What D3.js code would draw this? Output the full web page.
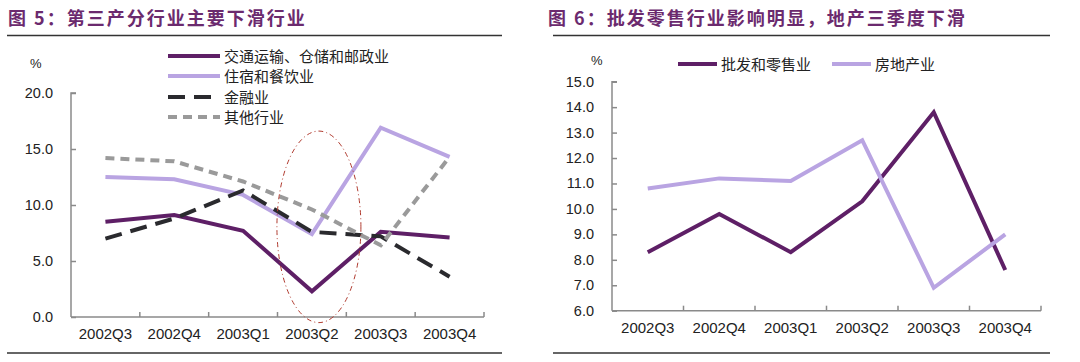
<!DOCTYPE html>
<html>
<head>
<meta charset="utf-8">
<script src="https://cdn.jsdelivr.net/npm/d3@7"></script>
<style>
  body { margin: 0; background: #fff; }
  svg { display: block; font-family: "Liberation Sans", Arial, sans-serif; }
  .title { font-family: "Noto Sans CJK SC", sans-serif; font-weight: bold; font-size: 18px; fill: #6b2a6e; letter-spacing: 2px; }
  .cjk { font-family: "Noto Sans CJK SC", sans-serif; }
</style>
</head>
<body>
<svg id="chart" width="1080" height="362"></svg>
<script>
// quarters shared by both charts
const quarters = ["2002Q3", "2002Q4", "2003Q1", "2003Q2", "2003Q3", "2003Q4"];

// chart 5
const transport = [8.5, 9.1, 7.7, 2.3, 7.6, 7.1];
const hotel = [12.5, 12.3, 10.9, 7.4, 16.9, 14.3];
const finance = [7.0, 8.8, 11.3, 7.6, 7.2, 3.6];
const others = [14.2, 13.9, 12.1, 9.6, 6.4, 14.3];
const ticks5 = [0, 5, 10, 15, 20];

// chart 6
const retail = [8.3, 9.8, 8.3, 10.3, 13.8, 7.6];
const realEstate = [10.8, 11.2, 11.1, 12.7, 6.9, 9.0];
const ticks6 = [6, 7, 8, 9, 10, 11, 12, 13, 14, 15];

const DARK = "#5e1f66", LIGHT = "#b9a4e2", BLACK = "#2a2a2e", GREY = "#9a9a9a";

const svg = d3.select("#chart");

function drawPanel(opt) {
  const g = svg.append("g");

  // title and rules
  g.append("text").attr("class", "title")
    .attr("x", opt.titleX).attr("y", 25).text(opt.title);
  g.append("line").attr("x1", opt.ruleX[0]).attr("x2", opt.ruleX[1])
    .attr("y1", 35.5).attr("y2", 35.5).attr("stroke", "#333").attr("stroke-width", 1.3);
  g.append("line").attr("x1", opt.ruleX[0]).attr("x2", opt.ruleX[1])
    .attr("y1", 353).attr("y2", 353).attr("stroke", "#333").attr("stroke-width", 1.3);

  const xBand = d3.scaleBand().domain(quarters).range(opt.xRange);
  const x = d3.scalePoint().domain(quarters).range(opt.xRange).padding(0.5);
  const y = d3.scaleLinear().domain(opt.yDomain).range(opt.yRange);

  // y axis, inward ticks
  const yAxis = g.append("g")
    .attr("transform", `translate(${opt.xRange[0]},0)`)
    .call(d3.axisRight(y).tickValues(opt.yTicks).tickSize(5).tickFormat(""));
  yAxis.select(".domain").attr("d", `M5,${opt.yRange[1]}H0V${opt.yRange[0]}`);
  yAxis.selectAll("line, path").attr("stroke", "#8a8a8a").attr("stroke-width", 1.5);

  g.selectAll(".ylab").data(opt.yTicks).join("text")
    .attr("x", opt.xRange[0] - 18).attr("y", d => y(d) + 5)
    .attr("text-anchor", "end").attr("font-size", 14.5).attr("fill", "#222")
    .text(d => d3.format(".1f")(d));

  g.append("text").attr("x", opt.pctX).attr("y", opt.pctY)
    .attr("font-size", 13).attr("fill", "#222").text("%");

  // x axis with ticks at band edges
  const edges = quarters.map(q => xBand(q)).concat([opt.xRange[1]]);
  const y0 = opt.yRange[0];
  g.append("line").attr("x1", opt.xRange[0]).attr("x2", opt.xRange[1])
    .attr("y1", y0).attr("y2", y0).attr("stroke", "#8a8a8a").attr("stroke-width", 1.5);
  g.selectAll(".xt").data(edges.slice(1)).join("line")
    .attr("x1", d => d).attr("x2", d => d).attr("y1", y0).attr("y2", y0 - 5)
    .attr("stroke", "#8a8a8a").attr("stroke-width", 1.5);
  g.selectAll(".xlab").data(quarters).join("text")
    .attr("x", d => x(d)).attr("y", y0 + 22)
    .attr("text-anchor", "middle").attr("font-size", 15).attr("fill", "#222")
    .text(d => d);

  const line = d3.line().x((d, i) => x(quarters[i])).y(d => y(d));

  opt.series.forEach(s => {
    g.append("path").datum(s.values)
      .attr("d", line).attr("fill", "none")
      .attr("stroke", s.color).attr("stroke-width", 4)
      .attr("stroke-dasharray", s.dash || null)
      .attr("stroke-linejoin", "miter");
  });

  if (opt.extra) opt.extra(g, x, y);

  // legend
  opt.series.forEach((s, i) => {
    const lx = opt.legend[i][0], ly = opt.legend[i][1];
    g.append("line").attr("x1", lx).attr("x2", lx + opt.legendLen)
      .attr("y1", ly).attr("y2", ly)
      .attr("stroke", s.color).attr("stroke-width", 4)
      .attr("stroke-dasharray", s.dash || null);
    g.append("text").attr("class", "cjk")
      .attr("x", lx + opt.legendLen + 4).attr("y", ly + 5.5)
      .attr("font-size", 15).attr("fill", "#222").text(s.name);
  });
}

drawPanel({
  title: "图 5：第三产分行业主要下滑行业",
  titleX: 8, ruleX: [7, 502],
  xRange: [71, 484], yRange: [317, 93], yDomain: [0, 20], yTicks: ticks5,
  pctX: 30, pctY: 68,
  legendLen: 52,
  legend: [[168, 56], [168, 76], [168, 97], [168, 117]],
  series: [
    { name: "交通运输、仓储和邮政业", values: transport, color: DARK },
    { name: "住宿和餐饮业", values: hotel, color: LIGHT },
    { name: "金融业", values: finance, color: BLACK, dash: "17 9" },
    { name: "其他行业", values: others, color: GREY, dash: "9 6" }
  ],
  extra: (g, x, y) => {
    // highlight ellipse around 2003Q2
    g.append("ellipse")
      .attr("cx", x("2003Q2") + 7).attr("cy", (y(16.6) + y(-0.5)) / 2)
      .attr("rx", 42).attr("ry", (y(-0.5) - y(16.6)) / 2)
      .attr("fill", "none").attr("stroke", "#b03a2e").attr("stroke-width", 1)
      .attr("stroke-dasharray", "5 3 1 3");
  }
});

drawPanel({
  title: "图 6：批发零售行业影响明显，地产三季度下滑",
  titleX: 548, ruleX: [553, 1050],
  xRange: [612, 1041], yRange: [310.7, 81.7], yDomain: [6, 15], yTicks: ticks6,
  pctX: 591, pctY: 65,
  legendLen: 39,
  legend: [[678, 64], [832, 64]],
  series: [
    { name: "批发和零售业", values: retail, color: DARK },
    { name: "房地产业", values: realEstate, color: LIGHT }
  ]
});
</script>
</body>
</html>
